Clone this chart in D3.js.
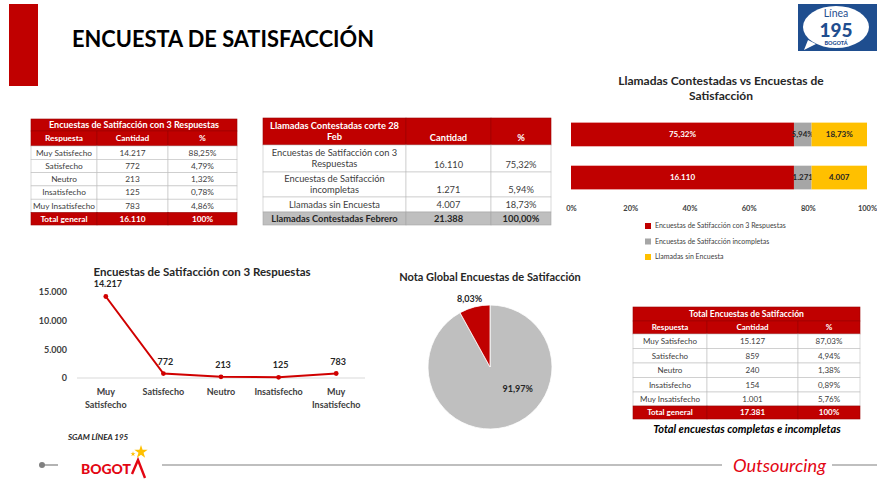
<!DOCTYPE html>
<html lang="es">
<head>
<meta charset="utf-8">
<title>Encuesta de Satisfacción</title>
<script src="https://cdn.jsdelivr.net/npm/d3@7/dist/d3.min.js"></script>
<style>
  html, body { margin: 0; padding: 0; background: #ffffff; }
  svg { display: block; }
  text { font-family: Lato, "Open Sans", sans-serif; }
</style>
</head>
<body>
<svg id="slide" width="877" height="481"></svg>
<script>
// ---- Datos ----
const respuestas = ["Muy Satisfecho", "Satisfecho", "Neutro", "Insatisfecho", "Muy Insatisfecho"];
const cantidad3 = [14217, 772, 213, 125, 783];
const pct3 = ["88,25%", "4,79%", "1,32%", "0,78%", "4,86%"];
const total3 = 16110;

const llamadasCat = ["Encuestas de Satifacción con 3 Respuestas", "Encuestas de Satifacción incompletas", "Llamadas sin Encuesta"];
const llamadasCant = [16110, 1271, 4007];
const llamadasPct = [75.32, 5.94, 18.73];
const llamadasTotal = 21388;

const totalCant = [15127, 859, 240, 154, 1001];
const totalPct = ["87,03%", "4,94%", "1,38%", "0,89%", "5,76%"];
const totalGeneral = 17381;

const notaLabels = ["91,97%", "8,03%"];
const notaValores = [91.97, 8.03];

const ejeLinea = [0, 5000, 10000, 15000];
const ejeBarras = [0, 0.2, 0.4, 0.6, 0.8, 1];

// ---- Formato ----
const es = d3.formatLocale({ decimal: ",", thousands: ".", grouping: [3], currency: ["", ""] });
const fmtN = es.format(",d");
const fmtP = v => es.format(".2f")(v) + "%";

const RED = "#C00000", GRAY = "#A6A6A6", YELLOW = "#FFC000", PIEGRAY = "#BFBFBF", TXT = "#404040";

const svg = d3.select("#slide");

// ---- Encabezado ----
svg.append("rect").attr("x", 9).attr("y", 4).attr("width", 29).attr("height", 82).attr("fill", RED);
svg.append("text").attr("x", 72).attr("y", 47)
  .attr("font-size", 22).attr("font-weight", 700).attr("fill", "#000")
  .attr("textLength", 302).attr("lengthAdjust", "spacingAndGlyphs")
  .text("ENCUESTA DE SATISFACCIÓN");

// Logo Línea 195
const logo = svg.append("g");
logo.append("rect").attr("x", 798).attr("y", 4).attr("width", 79).attr("height", 47).attr("fill", "#1F4E8F");
logo.append("ellipse").attr("cx", 836).attr("cy", 27).attr("rx", 33).attr("ry", 21).attr("fill", "#fff");
logo.append("path").attr("d", "M808,40 L804,50 L816,44 Z").attr("fill", "#fff");
logo.append("text").attr("x", 836).attr("y", 17).attr("text-anchor", "middle")
  .attr("font-size", 10.5).attr("fill", "#1F4E8F").text("Línea");
logo.append("text").attr("x", 836).attr("y", 37).attr("text-anchor", "middle")
  .attr("font-size", 19).attr("font-weight", 900).attr("fill", "#1F4E8F").text("195");
logo.append("text").attr("x", 836).attr("y", 44.5).attr("text-anchor", "middle")
  .attr("font-size", 5.5).attr("font-weight", 900).attr("fill", "#1F4E8F").text("BOGOTÁ");

// ---- Tablas ----
function drawTable(cfg) {
  const g = svg.append("g");
  const xs = cfg.cols, ys = cfg.rows;
  cfg.cells.forEach((row, i) => {
    const st = cfg.styles[i];
    const y0 = ys[i], y1 = ys[i + 1];
    if (st.span) {
      g.append("rect").attr("x", xs[0]).attr("y", y0).attr("width", xs[xs.length - 1] - xs[0]).attr("height", y1 - y0)
        .attr("fill", st.fill).attr("stroke", st.stroke).attr("stroke-width", 0.6);
    } else {
      for (let j = 0; j < xs.length - 1; j++) {
        g.append("rect").attr("x", xs[j]).attr("y", y0).attr("width", xs[j + 1] - xs[j]).attr("height", y1 - y0)
          .attr("fill", st.fill).attr("stroke", st.stroke).attr("stroke-width", 0.6);
      }
    }
    row.forEach((cell, j) => {
      const x0 = xs[j], x1 = st.span ? xs[xs.length - 1] : xs[j + 1];
      const lines = Array.isArray(cell) ? cell : [cell];
      const lh = st.size * 1.2;
      const anchor = (st.valign && st.valign[j]) || "middle";
      let yStart;
      if (anchor === "bottom") yStart = y1 - 4 - (lines.length - 1) * lh - st.size * 0.35;
      else yStart = (y0 + y1) / 2 - (lines.length - 1) * lh / 2;
      lines.forEach((ln, k) => {
        g.append("text").attr("x", (x0 + x1) / 2).attr("y", yStart + k * lh)
          .attr("dy", "0.35em").attr("text-anchor", "middle")
          .attr("font-size", st.size).attr("font-weight", st.bold ? 700 : 400)
          .attr("fill", st.color).text(ln);
      });
    });
  });
  return g;
}

const hdr = { fill: RED, stroke: "#9A0000", color: "#fff", bold: true };
const body = { fill: "#fff", stroke: "#BFBFBF", color: TXT, bold: false };

// Tabla 1: encuestas con 3 respuestas
drawTable({
  cols: [31, 97, 168, 237],
  rows: [119, 131, 146, 159.3, 172.6, 185.9, 199.2, 212.5, 225],
  cells: [
    ["Encuestas de Satifacción con 3 Respuestas"],
    ["Respuesta", "Cantidad", "%"],
    ...respuestas.map((r, i) => [r, fmtN(cantidad3[i]), pct3[i]]),
    ["Total general", fmtN(total3), "100%"]
  ],
  styles: [
    Object.assign({ span: true, size: 9 }, hdr),
    Object.assign({ size: 8.3 }, hdr),
    ...respuestas.map(() => Object.assign({ size: 8.3 }, body)),
    Object.assign({ size: 8.3 }, hdr)
  ]
});

// Tabla 2: llamadas contestadas
drawTable({
  cols: [263, 406, 491, 551],
  rows: [118, 145, 172, 197, 212, 225],
  cells: [
    [["Llamadas Contestadas corte 28", "Feb"], "Cantidad", "%"],
    [["Encuestas de Satifacción con 3", "Respuestas"], fmtN(llamadasCant[0]), fmtP(llamadasPct[0])],
    [["Encuestas de Satifacción", "incompletas"], fmtN(llamadasCant[1]), fmtP(llamadasPct[1])],
    [llamadasCat[2], fmtN(llamadasCant[2]), fmtP(llamadasPct[2])],
    ["Llamadas Contestadas Febrero", fmtN(llamadasTotal), "100,00%"]
  ],
  styles: [
    Object.assign({ size: 9.3, valign: ["middle", "bottom", "bottom"] }, hdr),
    Object.assign({ size: 9.3, valign: ["middle", "bottom", "bottom"] }, body),
    Object.assign({ size: 9.3, valign: ["middle", "bottom", "bottom"] }, body),
    Object.assign({ size: 9.3 }, body),
    { size: 9.3, fill: "#BFBFBF", stroke: "#A6A6A6", color: "#262626", bold: true }
  ]
});

// Tabla 3: total encuestas
drawTable({
  cols: [633, 707, 798, 860],
  rows: [307, 321, 334, 348.5, 363, 377.5, 392, 406, 419],
  cells: [
    ["Total Encuestas de Satifacción"],
    ["Respuesta", "Cantidad", "%"],
    ...respuestas.map((r, i) => [r, fmtN(totalCant[i]), totalPct[i]]),
    ["Total general", fmtN(totalGeneral), "100%"]
  ],
  styles: [
    Object.assign({ span: true, size: 8.6 }, hdr),
    Object.assign({ size: 8 }, hdr),
    ...respuestas.map(() => Object.assign({ size: 8 }, body)),
    Object.assign({ size: 8 }, hdr)
  ]
});
svg.append("text").attr("x", 747).attr("y", 433).attr("text-anchor", "middle")
  .attr("font-size", 11).attr("font-weight", 700).attr("font-style", "italic").attr("fill", "#000")
  .text("Total encuestas completas e incompletas");

// ---- Barras apiladas 100% ----
const stackG = svg.append("g");
stackG.append("text").attr("x", 721).attr("y", 85).attr("text-anchor", "middle")
  .attr("font-size", 12).attr("font-weight", 700).attr("fill", "#262626").text("Llamadas Contestadas vs Encuestas de");
stackG.append("text").attr("x", 721).attr("y", 100).attr("text-anchor", "middle")
  .attr("font-size", 12).attr("font-weight", 700).attr("fill", "#262626").text("Satisfacción");

const xB = d3.scaleLinear().domain([0, 1]).range([571, 867]);
const yB = d3.scaleBand().domain(["pct", "cant"]).range([114, 198]).paddingInner(0.45).paddingOuter(0.2);
const barColors = [RED, GRAY, YELLOW];
const barLabelColors = ["#fff", "#262626", "#262626"];
const barRows = [
  { key: "pct", vals: llamadasPct, labels: llamadasPct.map(fmtP) },
  { key: "cant", vals: llamadasCant, labels: llamadasCant.map(fmtN) }
];
barRows.forEach(row => {
  const sum = d3.sum(row.vals);
  let acc = 0;
  row.vals.forEach((v, i) => {
    const a = acc / sum, b = (acc + v) / sum;
    acc += v;
    stackG.append("rect").attr("x", xB(a)).attr("y", yB(row.key))
      .attr("width", xB(b) - xB(a)).attr("height", yB.bandwidth()).attr("fill", barColors[i]);
    stackG.append("text").attr("x", (xB(a) + xB(b)) / 2).attr("y", yB(row.key) + yB.bandwidth() / 2)
      .attr("dy", "0.35em").attr("text-anchor", "middle").attr("font-size", 8).attr("font-weight", 700)
      .attr("fill", barLabelColors[i]).text(row.labels[i]);
  });
});
const xAxisB = stackG.append("g").attr("transform", "translate(0,203)")
  .call(d3.axisBottom(xB).tickValues(ejeBarras).tickFormat(d3.format(".0%")).tickSize(0));
xAxisB.select(".domain").remove();
xAxisB.selectAll("text").attr("font-size", 7.5).attr("font-weight", 700).attr("fill", TXT)
  .attr("font-family", "Lato, sans-serif");

const legB = stackG.append("g");
llamadasCat.forEach((c, i) => {
  const y = 226 + i * 15.5;
  legB.append("rect").attr("x", 645).attr("y", y - 3).attr("width", 6).attr("height", 6).attr("fill", barColors[i]);
  legB.append("text").attr("x", 655).attr("y", y).attr("dy", "0.35em")
    .attr("font-size", 7).attr("fill", TXT).text(c);
});

// ---- Línea: encuestas con 3 respuestas ----
const lineG = svg.append("g");
lineG.append("text").attr("x", 202).attr("y", 276).attr("text-anchor", "middle")
  .attr("font-size", 11.5).attr("font-weight", 700).attr("fill", "#262626")
  .text("Encuestas de Satifacción con 3 Respuestas");
const xL = d3.scaleBand().domain(respuestas).range([77, 365]);
const yL = d3.scaleLinear().domain([0, 15000]).range([378, 292]);
const yAxisL = lineG.append("g").attr("transform", "translate(70,0)")
  .call(d3.axisLeft(yL).tickValues(ejeLinea).tickFormat(fmtN).tickSize(0));
yAxisL.select(".domain").remove();
yAxisL.selectAll("text").attr("font-size", 9).attr("font-weight", 700).attr("fill", TXT)
  .attr("font-family", "Lato, sans-serif");
lineG.append("line").attr("x1", 77).attr("x2", 365).attr("y1", yL(0)).attr("y2", yL(0))
  .attr("stroke", "#D9D9D9").attr("stroke-width", 1);
const cx = d => xL(d) + xL.bandwidth() / 2;
lineG.append("path").datum(cantidad3.map((v, i) => [cx(respuestas[i]), yL(v)]))
  .attr("d", d3.line()).attr("fill", "none").attr("stroke", "#D00000").attr("stroke-width", 2);
cantidad3.forEach((v, i) => {
  lineG.append("circle").attr("cx", cx(respuestas[i])).attr("cy", yL(v)).attr("r", 2.4).attr("fill", "#D00000");
  lineG.append("text").attr("x", cx(respuestas[i]) + 2).attr("y", yL(v) - 9)
    .attr("text-anchor", "middle").attr("font-size", 9).attr("font-weight", 700).attr("fill", "#262626").text(fmtN(v));
});
const catLines = { "Muy Satisfecho": ["Muy", "Satisfecho"], "Muy Insatisfecho": ["Muy", "Insatisfecho"] };
respuestas.forEach(r => {
  const lines = catLines[r] || [r];
  lines.forEach((ln, k) => {
    lineG.append("text").attr("x", cx(r)).attr("y", 395 + k * 13)
      .attr("text-anchor", "middle").attr("font-size", 9).attr("font-weight", 700).attr("fill", TXT).text(ln);
  });
});

// ---- Torta: nota global ----
const pieG = svg.append("g").attr("transform", "translate(490,367)");
svg.append("text").attr("x", 490).attr("y", 281).attr("text-anchor", "middle")
  .attr("font-size", 11).attr("font-weight", 700).attr("fill", "#262626")
  .text("Nota Global Encuestas de Satifacción");
const pie = d3.pie().sort(null).value(d => d)(notaValores);
const arc = d3.arc().innerRadius(0).outerRadius(62);
const pieColors = [PIEGRAY, RED];
pieG.selectAll("path").data(pie).join("path").attr("d", arc).attr("fill", (d, i) => pieColors[i])
  .attr("stroke", "#fff").attr("stroke-width", 0.8);
// etiqueta del sector menor fuera del círculo; la mayor dentro
const smallMid = (pie[1].startAngle + pie[1].endAngle) / 2;
const pSmall = d3.pointRadial(smallMid, 70);
pieG.append("text").attr("x", pSmall[0] - 3).attr("y", pSmall[1]).attr("dy", "0.35em").attr("text-anchor", "middle")
  .attr("font-size", 9).attr("font-weight", 700).attr("fill", "#262626").text(notaLabels[1]);
const pBig = d3.pointRadial(Math.PI * 0.71, 35);
pieG.append("text").attr("x", pBig[0]).attr("y", pBig[1]).attr("dy", "0.35em").attr("text-anchor", "middle")
  .attr("font-size", 9).attr("font-weight", 700).attr("fill", "#262626").text(notaLabels[0]);

// ---- Pie de página ----
svg.append("text").attr("x", 68).attr("y", 440).attr("font-size", 8).attr("font-weight", 700)
  .attr("font-style", "italic").attr("fill", "#262626").text("SGAM LÍNEA 195");
const foot = svg.append("g");
foot.append("circle").attr("cx", 42).attr("cy", 465).attr("r", 3).attr("fill", "#808080");
foot.append("line").attr("x1", 42).attr("x2", 58).attr("y1", 465).attr("y2", 465).attr("stroke", "#808080").attr("stroke-width", 1.2);
foot.append("line").attr("x1", 162).attr("x2", 722).attr("y1", 465).attr("y2", 465).attr("stroke", "#808080").attr("stroke-width", 1.2);
foot.append("line").attr("x1", 832).attr("x2", 877).attr("y1", 465).attr("y2", 465).attr("stroke", "#808080").attr("stroke-width", 1.2);
foot.append("text").attr("x", 81).attr("y", 474).attr("font-size", 14).attr("font-weight", 900)
  .attr("fill", "#E30613").attr("textLength", 50).attr("lengthAdjust", "spacingAndGlyphs").text("BOGOT");
foot.append("path").attr("d", "M132,474 L138,460 L145,478").attr("fill", "none")
  .attr("stroke", "#E30613").attr("stroke-width", 2.4).attr("stroke-linejoin", "miter");
foot.append("path").attr("d", d3.symbol(d3.symbolStar, 55)()).attr("transform", "translate(141,452)").attr("fill", "#FFC000");
foot.append("path").attr("d", d3.symbol(d3.symbolStar, 8)()).attr("transform", "translate(133,454)").attr("fill", "#FFC000");
foot.append("text").attr("x", 733).attr("y", 472).attr("font-size", 17).attr("font-style", "italic")
  .attr("font-family", "'DejaVu Serif', serif").attr("fill", "#E30613")
  .attr("textLength", 93).attr("lengthAdjust", "spacingAndGlyphs").text("Outsourcing");
</script>
</body>
</html>
